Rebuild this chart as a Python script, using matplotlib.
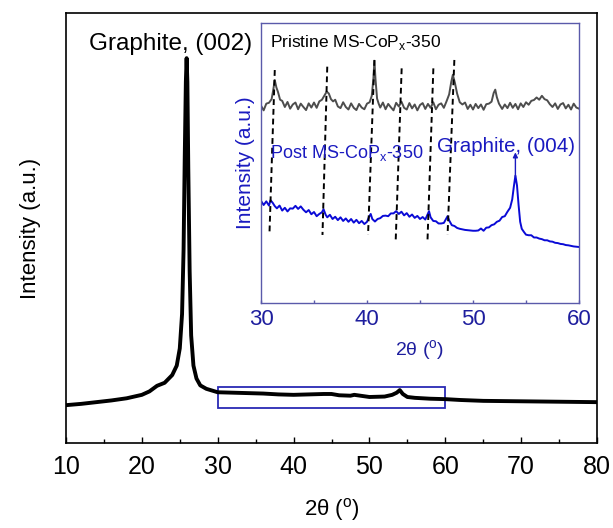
import matplotlib
matplotlib.use("Agg")
import matplotlib.pyplot as plt
from matplotlib.patches import Rectangle

plt.rcParams['font.family'] = ['Liberation Sans', 'DejaVu Sans']
plt.rcParams['mathtext.fontset'] = 'custom'
plt.rcParams['mathtext.rm'] = 'Liberation Sans'

# ---- main pattern (2theta, intensity a.u.) ----
main_x = [10, 12, 14, 16, 18, 20, 21, 22, 23, 24, 24.6, 25.0, 25.3, 25.5, 25.65, 25.8, 25.9,
          26.0, 26.12, 26.3, 26.5, 26.8, 27.2, 27.7, 28.5, 30, 32, 34, 36, 38, 40, 42, 44, 45,
          46, 47.5, 48, 50, 52, 53, 53.6, 54.0, 54.4, 55, 56, 58, 60, 62, 65, 70, 75, 80]
main_y = [8.8, 9.1, 9.5, 9.9, 10.4, 11.2, 12.0, 13.3, 14.0, 15.8, 18.0, 22.0, 30.0, 45.0, 66.0, 84.0, 89.5,
          84.0, 64.0, 40.0, 25.0, 18.0, 15.0, 13.4, 12.6, 11.8, 11.7, 11.6, 11.5, 11.3, 11.2, 11.3, 11.4, 11.4,
          11.1, 11.0, 11.2, 10.7, 10.8, 11.2, 11.7, 12.3, 11.4, 10.7, 10.5, 10.3, 10.2, 10.0, 9.8, 9.7, 9.6, 9.5]
main_xticks = [10, 20, 30, 40, 50, 60, 70, 80]
zoom_box = [30, 60, 8.1, 13.0]

# ---- inset: pristine (gray) ----
pri_x = [30.0, 30.25, 30.5, 30.75, 31.0, 31.15, 31.3, 31.45, 31.6, 31.8, 32.0, 32.25, 32.5, 32.75, 33.0,
         33.25, 33.5, 33.75, 34.0, 34.25, 34.5, 34.75, 35.0, 35.25, 35.5, 35.75, 36.0, 36.2, 36.4, 36.6,
         36.8, 37.0, 37.25, 37.5, 37.75, 38.0, 38.25, 38.5, 38.75, 39.0, 39.25, 39.5, 39.75, 40.0, 40.25,
         40.45, 40.6, 40.7, 40.8, 40.95, 41.1, 41.25, 41.5, 41.75, 42.0, 42.25, 42.5, 42.75, 43.0, 43.25,
         43.5, 43.75, 44.0, 44.25, 44.5, 44.75, 45.0, 45.25, 45.5, 45.75, 46.0, 46.25, 46.5, 46.75, 47.0,
         47.25, 47.5, 47.75, 47.95, 48.1, 48.3, 48.5, 48.75, 49.0, 49.25, 49.5, 49.75, 50.0, 50.25, 50.5,
         50.75, 51.0, 51.25, 51.5, 51.75, 51.95, 52.1, 52.25, 52.45, 52.75, 53.0, 53.25, 53.5, 53.75, 54.0,
         54.25, 54.5, 54.75, 55.0, 55.25, 55.5, 55.75, 56.0, 56.25, 56.5, 56.75, 57.0, 57.25, 57.5, 57.75,
         58.0, 58.25, 58.5, 58.75, 59.0, 59.25, 59.5, 59.75, 60.0]
pri_y = [70.5, 68.8, 71.2, 71.5, 72.8, 76.0, 79.6, 77.0, 75.4, 72.6, 72.2, 70.0, 71.8, 69.4, 70.9,
         71.6, 69.2, 71.2, 70.0, 68.9, 71.3, 69.8, 71.6, 69.7, 72.0, 72.6, 74.2, 75.5, 74.8, 72.8,
         72.0, 72.6, 70.2, 69.6, 71.7, 70.0, 69.1, 71.3, 69.7, 68.9, 71.1, 69.8, 69.2, 71.2, 71.7,
         74.0, 80.0, 86.5, 80.0, 73.0, 71.2, 69.8, 71.6, 69.2, 71.1, 69.9, 68.8, 71.5, 70.2, 71.9,
         69.7, 69.1, 71.4, 69.5, 70.9, 68.8, 70.7, 71.4, 69.3, 71.1, 69.7, 71.7, 69.2, 70.8, 71.3,
         69.7, 72.0, 74.5, 79.0, 81.5, 78.5, 74.8, 71.7, 70.9, 71.6, 69.3, 70.8, 69.1, 71.1, 69.6,
         70.9, 69.0, 71.0, 71.2, 71.9, 75.0, 76.2, 73.5, 71.2, 69.3, 70.9, 69.6, 71.5, 69.7, 71.1,
         69.2, 71.3, 70.0, 71.7, 70.8, 72.2, 72.5, 73.4, 72.6, 74.0, 72.8, 72.4, 71.0, 70.0, 71.3,
         69.3, 70.9, 71.4, 69.5, 70.8, 69.1, 71.2, 69.8, 69.4]

# ---- inset: post (blue) ----
post_x = [30.0, 30.25, 30.5, 30.75, 30.9, 31.1, 31.3, 31.5, 31.75, 32.0, 32.25, 32.5, 32.75, 33.0,
          33.25, 33.5, 33.75, 34.0, 34.25, 34.5, 34.75, 35.0, 35.25, 35.5, 35.75, 35.9, 36.1, 36.25,
          36.5, 36.75, 37.0, 37.25, 37.5, 37.75, 38.0, 38.25, 38.5, 38.75, 39.0, 39.25, 39.5, 39.75,
          40.0, 40.2, 40.35, 40.5, 40.75, 41.0, 41.25, 41.5, 41.75, 42.0, 42.25, 42.5, 42.75, 43.0,
          43.25, 43.5, 43.75, 44.0, 44.25, 44.5, 44.75, 45.0, 45.25, 45.5, 45.7, 45.85, 46.0, 46.25,
          46.5, 46.75, 47.0, 47.25, 47.45, 47.6, 47.75, 48.0, 48.25, 48.5, 48.75, 49.0, 49.25, 49.5,
          49.75, 50.0, 50.25, 50.5, 50.75, 51.0, 51.25, 51.5, 51.75, 52.0, 52.25, 52.5, 52.75, 53.0,
          53.25, 53.5, 53.7, 53.85, 54.0, 54.15, 54.3, 54.45, 54.6, 54.8, 55.0, 55.25, 55.5, 55.75,
          56.0, 56.25, 56.5, 56.75, 57.0, 57.25, 57.5, 57.75, 58.0, 58.25, 58.5, 58.75, 59.0, 59.25,
          59.5, 59.75, 60.0]
post_y = [36.5, 35.0, 36.3, 34.8, 36.7, 35.8, 34.6, 33.8, 34.8, 33.0, 34.0, 32.7, 33.8, 33.7,
          34.7, 33.6, 34.5, 33.3, 32.4, 33.2, 31.7, 32.5, 31.0, 31.8, 32.4, 33.5, 31.5, 30.6,
          31.5, 30.0, 30.8, 29.6, 30.6, 29.3, 30.2, 29.0, 30.0, 28.7, 29.7, 28.5, 29.3, 28.2,
          29.0, 30.8, 31.8, 30.0, 29.1, 30.0, 30.3, 31.1, 31.2, 31.0, 32.0, 32.0, 32.8, 31.8,
          32.6, 31.3, 32.1, 30.8, 31.6, 30.4, 31.1, 30.0, 30.7, 29.8, 31.5, 32.8, 30.6, 29.3,
          29.2, 28.4, 28.4, 28.6, 30.0, 31.0, 29.5, 27.8, 27.5, 26.8, 26.5, 26.3, 26.1, 26.0,
          25.9, 25.8, 25.8, 25.9, 26.6, 25.8, 26.9, 27.0, 27.8, 28.1, 29.0, 29.4, 30.7, 31.0,
          32.6, 34.0, 37.0, 41.5, 45.5, 42.0, 35.0, 29.0, 26.5, 25.4, 24.4, 24.2, 24.2, 23.4,
          23.4, 23.0, 22.8, 22.4, 22.4, 22.0, 21.9, 21.5, 21.4, 21.1, 21.0, 20.7, 20.6, 20.4,
          20.2, 20.1, 20.0]

# dashed guide lines: (x_top, y_top, x_bottom, y_bottom)
guide_x_top = [31.3, 36.25, 40.7, 43.27, 46.26, 48.24]
guide_y_top = [83.2, 84.4, 86.8, 83.8, 83.8, 86.8]
guide_x_bot = [30.8, 35.8, 40.1, 42.7, 45.7, 47.6]
guide_y_bot = [24.9, 24.3, 24.3, 21.5, 21.5, 24.3]
inset_xticks = [30, 40, 50, 60]

W, H = 613, 528
fig = plt.figure(figsize=(W / 100, H / 100), dpi=100)

# main axes
ax = fig.add_axes([66 / W, 1 - 443 / H, (597 - 66) / W, (443 - 13) / H])
ax.plot(main_x, main_y, color='black', lw=2.8, solid_joinstyle='round')
ax.set_xlim(10, 80)
ax.set_ylim(0, 100)
ax.set_xticks(main_xticks)
ax.set_xticks([15, 25, 35, 45, 55, 65, 75], minor=True)
ax.set_yticks([])
ax.tick_params(axis='x', which='major', direction='in', length=4, width=1.0,
               labelsize=18, pad=9)
ax.tick_params(axis='x', which='minor', direction='in', length=3, width=1.0)
for s in ax.spines.values():
    s.set_linewidth(1.2)
ax.set_xlabel(r'2θ ($^\mathregular{o}$)', fontsize=16, labelpad=12)
ax.set_ylabel('Intensity (a.u.)', fontsize=16, labelpad=18)
ax.add_patch(Rectangle((zoom_box[0], zoom_box[2]), zoom_box[1] - zoom_box[0],
                       zoom_box[3] - zoom_box[2], fill=False, edgecolor='#2a2ab4', lw=1.3))
ax.text(13.0, 91.5, 'Graphite, (002)', fontsize=17.5, ha='left', va='baseline')

# inset axes
ins = fig.add_axes([261 / W, 1 - 303 / H, (579 - 261) / W, (303 - 23) / H])
spine_c = '#5a5aaa'
label_c = '#1e1e9e'
ins.plot(pri_x, pri_y, color='#4d4d4d', lw=1.4)
ins.plot(post_x, post_y, color='#0a0ad6', lw=1.4)
for xt, yt, xb, yb in zip(guide_x_top, guide_y_top, guide_x_bot, guide_y_bot):
    ins.plot([xt, xb], [yt, yb], color='black', lw=1.4, ls=(0, (3, 2)))
ins.set_xlim(30, 60)
ins.set_ylim(0, 100)
ins.set_xticks(inset_xticks)
ins.set_xticks([35, 45, 55], minor=True)
ins.set_yticks([])
ins.tick_params(axis='x', which='both', direction='in', length=2.5, width=1.0,
                color=spine_c, labelsize=16, labelcolor=label_c, pad=4)
for s in ins.spines.values():
    s.set_color(spine_c)
    s.set_linewidth(1.0)
ins.set_xlabel(r'2θ ($^\mathregular{o}$)', fontsize=14, color=label_c, labelpad=6)
ins.set_ylabel('Intensity (a.u.)', fontsize=15, color='#1a1ac0', labelpad=4)
ins.text(30.85, 91.4, r'Pristine MS-CoP$_\mathregular{x}$-350', fontsize=12.5,
         color='black', ha='left', va='baseline')
ins.text(30.85, 51.8, r'Post MS-CoP$_\mathregular{x}$-350', fontsize=13,
         color='#1a1ac0', ha='left', va='baseline')
ins.text(46.6, 54.0, 'Graphite, (004)', fontsize=14.8, color='#1a1ac0',
         ha='left', va='baseline')
ins.annotate('', xy=(54.0, 53.8), xytext=(54.0, 45.0),
             arrowprops=dict(arrowstyle='-|>', color='#1a1ac0', lw=1.0,
                             mutation_scale=7, shrinkA=0, shrinkB=0))

fig.savefig('out.png', dpi=100)
